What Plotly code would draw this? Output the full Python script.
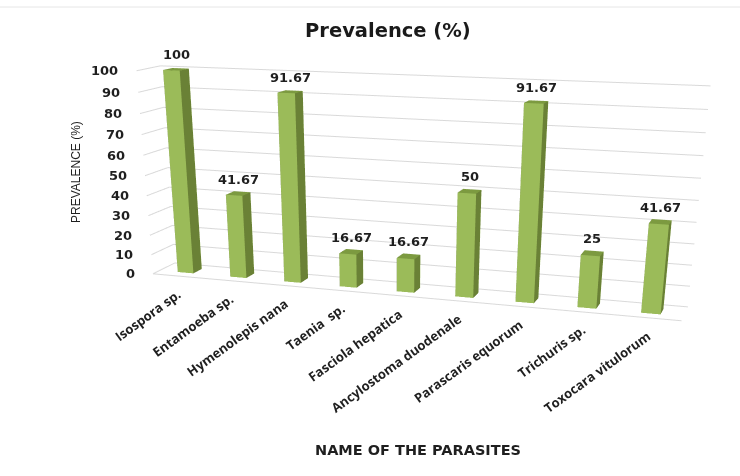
import plotly.graph_objects as go

parasites = ["Isospora sp.", "Entamoeba sp.", "Hymenolepis nana", "Taenia  sp.", "Fasciola hepatica",
             "Ancylostoma duodenale", "Parascaris equorum", "Trichuris sp.", "Toxocara vitulorum"]
prevalence = [100, 41.67, 91.67, 16.67, 16.67, 50, 91.67, 25, 41.67]
z_ticks = [0, 10, 20, 30, 40, 50, 60, 70, 80, 90, 100]

FIG_H = 1056
BAR_W = 0.3
Y0, Y1 = 0.3, 0.7
FRONT, SIDE, TOP = "#9BBB59", "#6A8136", "#7C9A40"
GRID = "#D9D9D9"
TEXT = "#1F1F1F"


def bar_mesh(values):
    xs, ys, zs, i, j, k, colors = [], [], [], [], [], [], []
    quads = [((0, 1, 5, 4), FRONT), ((1, 2, 6, 5), SIDE), ((4, 5, 6, 7), TOP),
             ((0, 3, 7, 4), SIDE), ((3, 2, 6, 7), FRONT)]
    for n, v in enumerate(values):
        x0, x1 = n + 0.5 - BAR_W / 2, n + 0.5 + BAR_W / 2
        base = len(xs)
        for zv in (0, v):
            xs += [x0, x1, x1, x0]
            ys += [Y0, Y0, Y1, Y1]
            zs += [zv, zv, zv, zv]
        for q, c in quads:
            a, b, d, e = [base + m for m in q]
            i += [a, a]
            j += [b, d]
            k += [d, e]
            colors += [c, c]
    return go.Mesh3d(x=xs, y=ys, z=zs, i=i, j=j, k=k, facecolor=colors, flatshading=True,
                     lighting=dict(ambient=1, diffuse=0, specular=0, fresnel=0),
                     hoverinfo="skip", showscale=False)


def grid_trace():
    n = len(parasites)
    xs, ys, zs = [], [], []
    for t in z_ticks:
        xs += [0, 0, n, None]
        ys += [0, 1, 1, None]
        zs += [t, t, t, None]
    xs += [0, n, None]
    ys += [0, 0, None]
    zs += [0, 0, None]
    return go.Scatter3d(x=xs, y=ys, z=zs, mode="lines", line=dict(color=GRID, width=2),
                        hoverinfo="skip", showlegend=False)


tick_font = dict(family="DejaVu Sans", size=13, color=TEXT, weight="bold")
notes = []
for t in z_ticks:
    notes.append(dict(x=0, y=0, z=t, text=str(t), showarrow=False, xanchor="right", yanchor="middle",
                      xshift=-16, font=tick_font))
for n, v in enumerate(prevalence):
    notes.append(dict(x=n + 0.5, y=0.5, z=v, text=f"{v:g}", showarrow=False, xanchor="center",
                      yanchor="bottom", yshift=5, font=tick_font))
for n, name in enumerate(parasites):
    notes.append(dict(x=n + 0.5, y=0, z=0, text=name, showarrow=False, xanchor="right", yanchor="top",
                      yshift=-6, xshift=8, textangle=-36,
                      font=dict(family="Open Sans", size=13, color=TEXT, weight="bold")))

fig = go.Figure([grid_trace(), bar_mesh(prevalence)])


def py(p):
    return 1 - p / FIG_H


fig.update_layout(
    width=740, height=FIG_H, margin=dict(l=0, r=0, t=0, b=0),
    paper_bgcolor="white", showlegend=False,
    scene=dict(
        domain=dict(x=[42 / 740, 1], y=[0, 1]),
        xaxis=dict(visible=False, range=[0, 9]),
        yaxis=dict(visible=False, range=[0, 1]),
        zaxis=dict(visible=False, range=[0, 100]),
        aspectmode="manual", aspectratio=dict(x=2.02, y=0.183, z=0.744),
        camera=dict(eye=dict(x=1.416, y=-4.426, z=0.862),
                    center=dict(x=0.038, y=-0.317, z=-1.202),
                    up=dict(x=0, y=0, z=1)),
        annotations=notes,
    ),
    annotations=[
        dict(x=388 / 740, y=py(31), xref="paper", yref="paper", text="<b>Prevalence (%)</b>", showarrow=False,
             xanchor="center", yanchor="middle", font=dict(family="DejaVu Sans", size=19.5, color="#1a1a1a")),
        dict(x=76 / 740, y=py(172), xref="paper", yref="paper", text="PREVALENCE (%)", showarrow=False,
             xanchor="center", yanchor="middle", textangle=-90,
             font=dict(family="Liberation Sans", size=12, color=TEXT)),
        dict(x=418 / 740, y=py(450), xref="paper", yref="paper", text="<b>NAME OF THE PARASITES</b>", showarrow=False,
             xanchor="center", yanchor="middle", font=dict(family="DejaVu Sans", size=14.5, color=TEXT)),
    ],
    shapes=[dict(type="line", xref="paper", yref="paper", x0=0, x1=1, y0=py(7), y1=py(7),
                 line=dict(color="#E6E6E6", width=1))],
)

fig.write_html("out.html", config=dict(displayModeBar=False))
